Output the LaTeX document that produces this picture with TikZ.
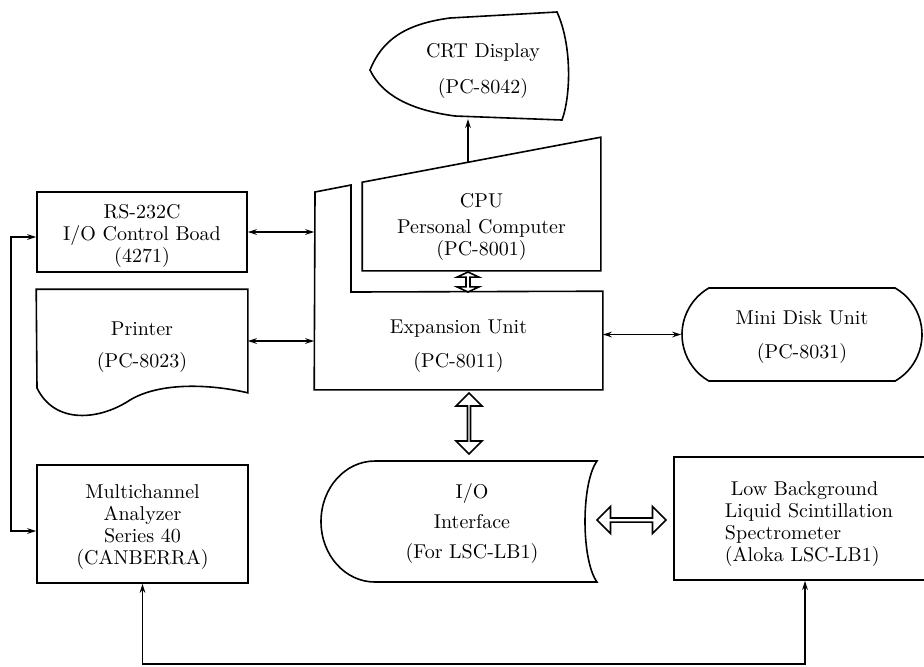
\documentclass[tikz,border=0pt]{standalone}
\usetikzlibrary{arrows.meta, shapes.arrows, shapes.misc}

\newcommand\topgap[1]{\rule{0pt}{#1}}

\tikzset{
  unitbox/.style={draw, rectangle, inner sep=0pt, align=center},
  unittext/.style={inner sep=0pt, align=center},
  bus/.style={draw, double arrow, inner sep=0pt, double arrow head extend=3pt},
}

\begin{document}
\begin{tikzpicture}[x=0.5pt, y=-0.5pt, >={Stealth[length=4.5pt,width=2.8pt]}, line width=0.8pt, font=\fontsize{10}{11}\selectfont]

\useasboundingbox (0,0) rectangle (924,666);

% Define the nodes with coordinates
\node[unitbox, minimum width=105pt, minimum height=40pt] (RS) at (142,232) {\topgap{10.8pt}RS-232C\\I/O Control Boad\\(4271)};
\node[unittext, minimum width=105pt, minimum height=51pt] (PR) at (142,341) {\topgap{12.8pt}Printer\\[5pt](PC-8023)};
\node[unitbox, minimum width=105.5pt, minimum height=59pt] (MCA) at (142.5,524) {\topgap{9.8pt}Multichannel\\Analyzer\\Series 40\\(CANBERRA)};
\node[unittext] (CRT) at (483,71) {CRT Display\\[7pt](PC-8042)};
\node[unittext, minimum width=118.5pt, minimum height=43.5pt] (CPU) at (481.5,226.5) {CPU\\[2pt]Personal Computer\\(PC-8001)};
\node[unittext, minimum width=143.5pt, minimum height=48.5pt] (EU) at (458.5,340.5) {\topgap{12.8pt}Expansion Unit\\[6pt](PC-8011)};
\node[draw, rounded rectangle, rounded rectangle arc length=120, inner sep=0pt, align=center, minimum width=120pt, minimum height=46.5pt] (MDU) at (802,334.5) {\topgap{9.3pt}Mini Disk Unit\\[6pt](PC-8031)};
\node[unittext] (IO) at (472,523) {I/O\\[4pt]Interface\\[4pt](For LSC-LB1)};
\node[unittext, align=left, minimum width=133pt, minimum height=61.5pt] (LSC) at (809,518.5) {\topgap{12pt}\hspace*{3pt}Low Background\\Liquid Scintillation\\Spectrometer\\(Aloka LSC-LB1)};

\coordinate (CPU top) at (468,163);
\coordinate (CRT base) at (468,119);
\coordinate (loop) at (805,664);

% Draw the outlines
\draw (370,70) .. controls (382,40) and (405,24) .. (450,18) -- (557,12) .. controls (572,45) and (571,95) .. (562,120) -- (455,116) .. controls (410,110) and (382,95) .. (370,70) -- cycle;
\draw (CPU.south west) -- (CPU.north west) -- ([yshift=22.5pt]CPU.north east) -- (CPU.south east) -- cycle;
\draw (EU.south west) -- (315,192) -- (351,185) -- (351,292) -- (EU.north east) -- (EU.south east) -- cycle;
\draw (37,388) -- (PR.north west) -- (PR.north east) -- (PR.south east) .. controls (210,384) and (160,382) .. (130,400) .. controls (100,420) and (55,425) .. (37,388) -- cycle;
\draw (597,461) -- (375,461) .. controls (345,461) and (321,488) .. (321,521.5) .. controls (321,555) and (345,582) .. (375,582) -- (597,582) .. controls (581,560) and (581,483) .. (597,461) -- cycle;
\draw (924,457) -| (674,580) -- (924,580);

% Draw the buses
\node[bus, rotate=90, minimum height=10pt, minimum width=11pt, double arrow head extend=1.8pt, double arrow tip angle=130] (busCPU) at (468,282) {};
\node[bus, rotate=90, minimum height=30.5pt, minimum width=13pt] (busIO) at (469,423.5) {};
\node[bus, minimum height=34.5pt, minimum width=13.5pt, double arrow head extend=2.25pt] (busLSC) at (631.5,520) {};

% Draw the edges
\draw[->] (CPU top) -- (CRT base);
\draw[<->] (RS.east) -- (RS.east -| EU.west);
\draw[<->] (PR.east) -- (PR.east -| EU.west);
\draw[<->] (EU.east |- MDU.west) -- (MDU.west);
\draw[<->] ([yshift=-2.5pt]RS.west) -- ++(-25,0) |- ([yshift=-3.5pt]MCA.west);
\draw[<->] (MCA.south) |- (loop) -- (loop |- LSC.south);

\end{tikzpicture}
\end{document}
